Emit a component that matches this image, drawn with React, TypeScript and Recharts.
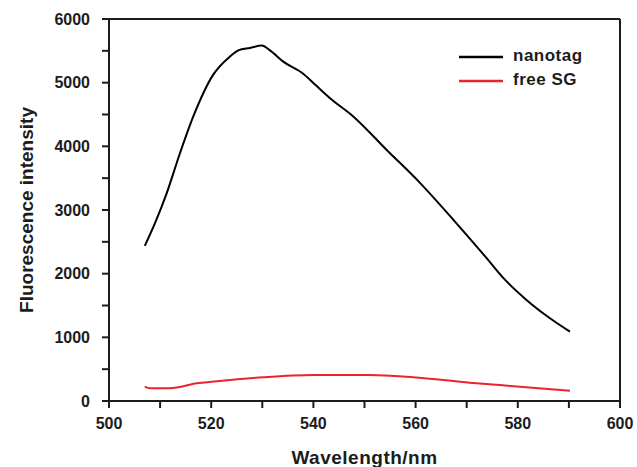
import React from 'react';
import { LineChart, Line, XAxis, YAxis, ReferenceLine, Legend } from 'recharts';

// wavelengths (nm) and intensities
const nanotagWavelength = [507.0, 509.0, 511.3, 513.9, 516.5, 520.4, 523.7, 525.3, 527.6, 529.9, 531.5, 534.1, 538.0, 540.6, 543.2, 547.8, 554.3, 560.9, 567.4, 573.9, 577.2, 581.7, 586.3, 590.2];
const nanotagIntensity = [2437, 2794, 3266, 3895, 4470, 5126, 5413, 5508, 5546, 5582, 5508, 5330, 5140, 4950, 4760, 4470, 3947, 3423, 2846, 2244, 1929, 1588, 1300, 1090];

const freeSGWavelength = [507.0, 508.0, 511.9, 517.2, 523.7, 530.2, 540.0, 551.0, 559.5, 570.6, 580.4, 590.2];
const freeSGIntensity = [225, 200, 200, 277, 330, 373, 409, 409, 373, 288, 225, 162];

const seriesNames = ['nanotag', 'free SG'];
const xTicks = [500, 510, 520, 530, 540, 550, 560, 570, 580, 590, 600];
const yTicks = [0, 500, 1000, 1500, 2000, 2500, 3000, 3500, 4000, 4500, 5000, 5500, 6000];

const nanotagData = nanotagWavelength.map((w, i) => ({ w, v: nanotagIntensity[i] }));
const freeSGData = freeSGWavelength.map((w, i) => ({ w, v: freeSGIntensity[i] }));

const FONT = '"Liberation Sans", Arial, sans-serif';
const INK = '#1c1c1c';
const RED = '#e8242c';

const renderLegend = (props: any) => {
  // keep the plotting order, not alphabetical
  const items = [...props.payload].sort(
    (a: any, b: any) => seriesNames.indexOf(a.value) - seriesNames.indexOf(b.value)
  );
  return (
    <div style={{ fontFamily: FONT, fontWeight: 700, fontSize: 17, color: INK }}>
      {items.map((entry: any) => (
        <div key={entry.value} style={{ display: 'flex', alignItems: 'center', height: 24 }}>
          <svg width={54} height={6} style={{ display: 'block' }}>
            <line x1={0} y1={3} x2={44} y2={3} stroke={entry.color} strokeWidth={2.5} />
          </svg>
          <span style={{ lineHeight: '24px', marginTop: -3, letterSpacing: 0.5 }}>{entry.value}</span>
        </div>
      ))}
    </div>
  );
};

export default function App() {
  return (
    <div style={{ position: 'absolute', left: 0, top: 0, width: 637, height: 467, background: '#fff' }}>
      <LineChart width={637} height={467} margin={{ top: 19, right: 17, bottom: 0, left: 0 }}>
        <XAxis
          dataKey="w"
          type="number"
          domain={[500, 600]}
          ticks={xTicks}
          allowDataOverflow
          height={66}
          tickSize={7}
          tickMargin={10}
          stroke={INK}
          strokeWidth={2}
          tick={{ fill: INK, fontSize: 16, fontWeight: 700, fontFamily: FONT }}
          tickFormatter={(v: number) => (v % 20 === 0 ? String(v) : '')}
          label={{ value: 'Wavelength/nm', position: 'insideBottom', offset: 3, style: { fill: INK, fontSize: 19, fontWeight: 700, fontFamily: FONT, letterSpacing: 0.5 } }}
        />
        <YAxis
          type="number"
          domain={[0, 6000]}
          ticks={yTicks}
          width={109}
          tickSize={7}
          tickMargin={12}
          stroke={INK}
          strokeWidth={2}
          tick={{ fill: INK, fontSize: 16, fontWeight: 700, fontFamily: FONT }}
          tickFormatter={(v: number) => (v % 1000 === 0 ? String(v) : '')}
          label={{ value: 'Fluorescence intensity', angle: -90, position: 'insideLeft', offset: 26, style: { textAnchor: 'middle', fill: INK, fontSize: 19, fontWeight: 700, fontFamily: FONT } }}
        />
        <ReferenceLine y={6000} stroke={INK} strokeWidth={2} />
        <ReferenceLine x={600} stroke={INK} strokeWidth={2} />
        <Legend
          layout="vertical"
          align="center"
          verticalAlign="middle"
          content={renderLegend}
          wrapperStyle={{ left: 459, top: 45, width: 160 }}
        />
        <Line data={nanotagData} dataKey="v" name={seriesNames[0]} type="monotone" stroke="#000" strokeWidth={2} dot={false} isAnimationActive={false} />
        <Line data={freeSGData} dataKey="v" name={seriesNames[1]} type="monotone" stroke={RED} strokeWidth={2} dot={false} isAnimationActive={false} />
      </LineChart>
    </div>
  );
}
